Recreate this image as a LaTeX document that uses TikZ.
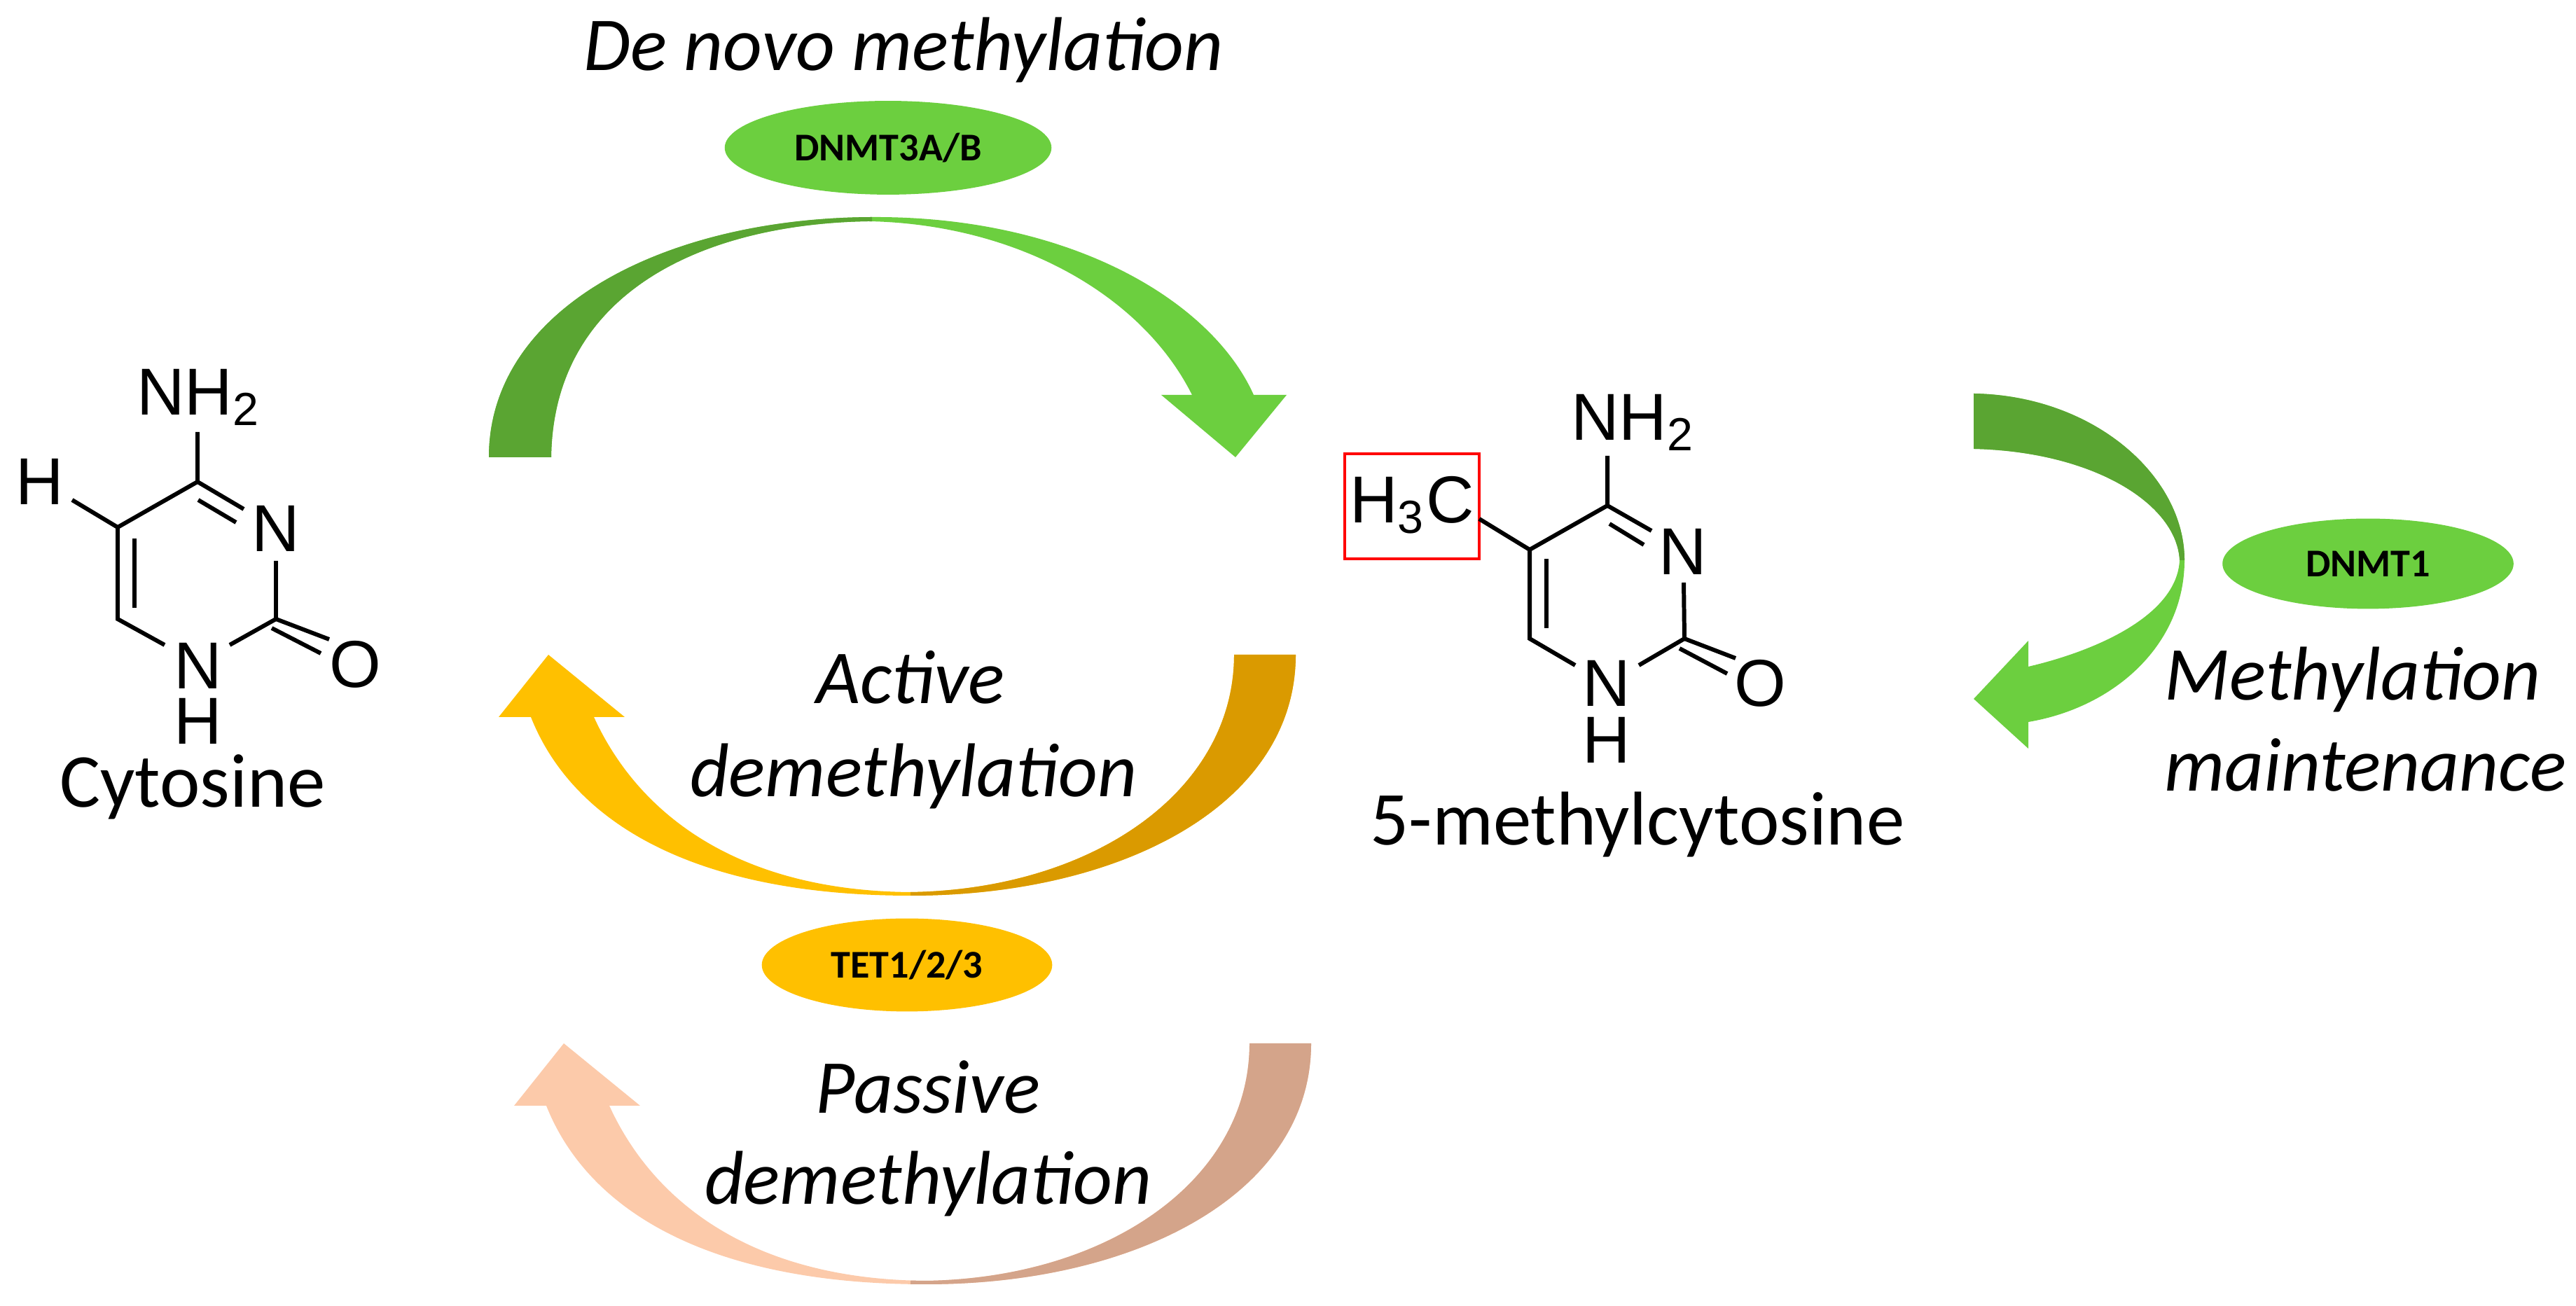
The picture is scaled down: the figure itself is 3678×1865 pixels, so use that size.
\documentclass[tikz,border=0pt]{standalone}
\usepackage{fontspec}
\setmainfont{Carlito}
\newfontfamily\chem{Liberation Sans}
\definecolor{gL}{HTML}{6CCF3F}
\definecolor{gD}{HTML}{5AA532}
\definecolor{oL}{HTML}{FFC000}
\definecolor{oD}{HTML}{DA9A00}
\definecolor{pL}{HTML}{FCCAAA}
\definecolor{pD}{HTML}{D4A48A}
\newcommand\myDenovo{(698,653) .. controls (698,440) and (950,310) .. (1250,310) .. controls (1530,310) and (1730,430) .. (1790,564) -- (1837,564) -- (1764,653) -- (1658,564) -- (1702,564) .. controls (1630,420) and (1450,320) .. (1240,316) .. controls (1000,320) and (790,420) .. (787,653) -- cycle}
\newcommand\myActive{(1850,935) .. controls (1850,1150) and (1600,1279) .. (1300,1279) .. controls (1000,1279) and (820,1180) .. (758,1024) -- (712,1024) -- (783,935) -- (892,1024) -- (848,1024) .. controls (910,1160) and (1050,1272) .. (1300,1274) .. controls (1560,1270) and (1762,1130) .. (1762,935) -- cycle}
\newcommand\myMaint{(2818,562) .. controls (2990,565) and (3119,680) .. (3119,800) .. controls (3119,920) and (3020,1010) .. (2896,1031) -- (2896,1069) -- (2818,998) -- (2896,915) -- (2896,952) .. controls (2990,930) and (3108,880) .. (3112,800) .. controls (3108,720) and (2990,645) .. (2818,641) -- cycle}
\usetikzlibrary{shapes.geometric}
\tikzset{
 lab/.style={font=\fontsize{15.5}{18}\selectfont\itshape, inner sep=0pt},
 enz/.style={ellipse, inner sep=0pt, font=\fontsize{8}{9}\selectfont\bfseries},
 atom/.style={font=\chem\fontsize{13.5}{15}\selectfont, inner sep=0pt},
 bond/.style={line width=0.85pt},
 molname/.style={font=\fontsize{15.5}{17}\selectfont, inner sep=0pt, anchor=base}
}
\begin{document}
\begin{tikzpicture}[x=0.005cm,y=-0.005cm]
\useasboundingbox (0,0) rectangle (3678,1865);
% de novo arrow
\fill[gL] \myDenovo;
\begin{scope}\clip (0,0) rectangle (1245,900); \fill[gD] \myDenovo; \end{scope}
% active arrow
\fill[oL] \myActive;
\begin{scope}\clip (1300,900) rectangle (2000,1300); \fill[oD] \myActive; \end{scope}
% passive arrow
\begin{scope}[shift={(22,555)}]
\fill[pL] \myActive;
\begin{scope}\clip (1278,900) rectangle (2000,1300); \fill[pD] \myActive; \end{scope}
\end{scope}
% maintenance arrow
\fill[gL] \myMaint;
\begin{scope}\clip (2700,400) rectangle (3300,800); \fill[gD] \myMaint; \end{scope}
% enzymes
\node[enz, fill=gL, minimum width=2.335cm, minimum height=0.67cm] (dnmt3) at (1268,211) {DNMT3A/B};
\node[enz, fill=oL, minimum width=2.075cm, minimum height=0.665cm] (tet) at (1295,1378) {TET1/2/3};
\node[enz, fill=gL, minimum width=2.08cm, minimum height=0.645cm] (dnmt1) at (3381,805) {DNMT1};
% labels
\node[lab, anchor=base] (denovo) at (1290,101) {De novo methylation};
\node[lab, anchor=base] (act1) at (1300,1005) {Active};
\node[lab, anchor=base] (act2) at (1304,1138) {demethylation};
\node[lab, anchor=base] (pas1) at (1325,1590) {Passive};
\node[lab, anchor=base] (pas2) at (1325,1720) {demethylation};
\node[lab, anchor=base west] (m1) at (3089,1000) {Methylation};
\node[lab, anchor=base west] (m2) at (3089,1130) {maintenance};
% cytosine
\node[atom] (cN4) at (284,567) {NH\textsubscript{2}};
\node[atom] (cN3) at (394,755) {N};
\node[atom] (cN1) at (283,951) {N};
\node[atom] (cH1) at (283,1030) {H};
\node[atom] (cO) at (507,949) {O};
\node[atom] (cH5) at (57,688) {H};
\coordinate (cC4) at (282,688); \coordinate (cC5) at (168,753);
\coordinate (cC6) at (168,884); \coordinate (cC2) at (394,884);
\draw[bond] (282,617) -- (cC4) -- (348,727);
\draw[bond] (283,714) -- (337,746);
\draw[bond] (cC4) -- (cC5) -- (103,714);
\draw[bond] (cC5) -- (cC6) -- (235,921);
\draw[bond] (192,769) -- (192,868);
\draw[bond] (394,801) -- (cC2) -- (328,921);
\draw[bond] (cC2) -- (470,913);
\draw[bond] (388,897) -- (458,933);
\node[molname] (cyt) at (275,1153) {Cytosine};
% 5-methylcytosine
\node[atom] (mN4) at (2332,603) {NH\textsubscript{2}};
\node[atom] (mN3) at (2403,788) {N};
\node[atom] (mN1) at (2294,976) {N};
\node[atom] (mH1) at (2294,1057) {H};
\node[atom] (mO) at (2513,976) {O};
\node[draw=red, line width=0.6pt, minimum width=0.96cm, minimum height=0.75cm, inner sep=0pt] (box) at (2016,723) {};
\node[atom] (mCH3) at (2016,721) {H\textsubscript{3}C};
\coordinate (mC4) at (2295,722); \coordinate (mC5) at (2184,785);
\coordinate (mC6) at (2184,912); \coordinate (mC2) at (2405,912);
\draw[bond] (2295,651) -- (mC4) -- (2358,758);
\draw[bond] (2298,748) -- (2347,778);
\draw[bond] (mC4) -- (mC5) -- (2112,741);
\draw[bond] (mC5) -- (mC6) -- (2249,950);
\draw[bond] (2208,798) -- (2208,897);
\draw[bond] (2404,832) -- (mC2) -- (2340,950);
\draw[bond] (mC2) -- (2478,940);
\draw[bond] (2398,926) -- (2466,962);
\node[molname] (mc) at (2338,1207) {5-methylcytosine};
\end{tikzpicture}
\end{document}
